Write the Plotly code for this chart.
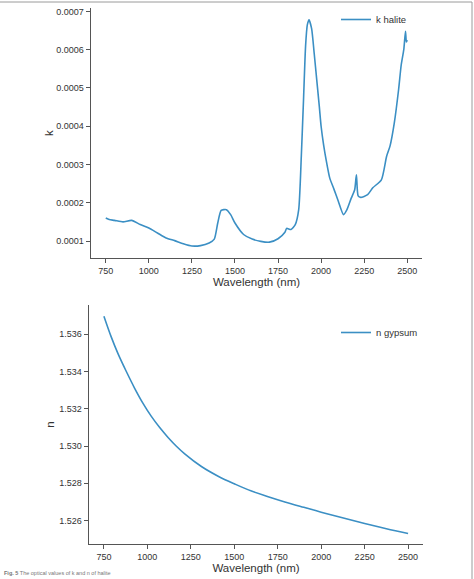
import plotly.graph_objects as go

# ---- data ----
k_wavelength = [750, 770, 800, 850, 900, 950, 1000, 1050, 1100, 1150, 1200, 1250, 1300, 1350, 1380,
                1400, 1420, 1450, 1475, 1500, 1550, 1600, 1650, 1700, 1750, 1790, 1800, 1825, 1850,
                1870, 1885, 1898, 1910, 1920, 1930, 1945, 1960, 1975, 1990, 2000, 2015, 2030, 2050,
                2075, 2100, 2130, 2150, 2175, 2195, 2205, 2215, 2230, 2270, 2300, 2350, 2380, 2400,
                2425, 2450, 2465, 2480, 2490, 2495, 2500]
k_halite = [0.000160, 0.000156, 0.000154, 0.000150, 0.000154, 0.000143, 0.000134, 0.000121, 0.000108,
            0.000101, 0.000093, 0.000087, 0.000088, 0.000095, 0.000105,
            0.000147, 0.000180, 0.000182, 0.000169, 0.000147, 0.000117, 0.000105, 0.000099, 0.000097,
            0.000106, 0.000123, 0.000133, 0.000130, 0.000143,
            0.000182, 0.000320, 0.000470, 0.000610, 0.000665, 0.000678, 0.000655, 0.000590, 0.000520,
            0.000450, 0.000400, 0.000350, 0.000310, 0.000265,
            0.000235, 0.000204, 0.000169, 0.000182, 0.000212, 0.000234, 0.000273, 0.000218, 0.000214,
            0.000221, 0.000239, 0.000260, 0.000321, 0.000348,
            0.000409, 0.000496, 0.000560, 0.000600, 0.000648, 0.000620, 0.000625]

n_wavelength = [750, 792, 831, 879, 927, 975, 1023, 1071, 1119, 1167, 1215, 1311, 1407, 1503, 1599,
                1695, 1791, 1900, 2000, 2100, 2250, 2375, 2500]
n_gypsum = [1.53697, 1.53586, 1.53496, 1.53400, 1.53310, 1.53229, 1.53159, 1.53099, 1.53046, 1.52999,
            1.52958, 1.52890, 1.52838, 1.52796, 1.52758, 1.52728, 1.52700, 1.52671, 1.52645,
            1.52620, 1.52584, 1.52556, 1.52530]

x_ticks = [750, 1000, 1250, 1500, 1750, 2000, 2250, 2500]
k_ticks = [0.0001, 0.0002, 0.0003, 0.0004, 0.0005, 0.0006, 0.0007]
n_ticks = [1.526, 1.528, 1.530, 1.532, 1.534, 1.536]

W, H = 474, 579
LINE = "#3b8fc4"
AX = "#333333"
FONT = "Liberation Sans, Arial, sans-serif"

fig = go.Figure()
fig.add_trace(go.Scatter(x=k_wavelength, y=k_halite, mode="lines", name="k halite", showlegend=True,
                         line=dict(color=LINE, width=1.6, shape="spline", smoothing=0.6),
                         xaxis="x", yaxis="y", legend="legend"))
fig.add_trace(go.Scatter(x=n_wavelength, y=n_gypsum, mode="lines", name="n gypsum", showlegend=True,
                         line=dict(color=LINE, width=1.6, shape="spline", smoothing=1.0),
                         xaxis="x2", yaxis="y2", legend="legend2"))

axis_common = dict(showgrid=False, zeroline=False, showline=True, linecolor="#555555", linewidth=1.2,
                   ticks="outside", ticklen=4, tickwidth=1, tickcolor="#555555",
                   tickfont=dict(size=9, color=AX, family=FONT))

fig.update_layout(
    width=W, height=H, margin=dict(l=0, r=0, t=0, b=0), showlegend=True,
    paper_bgcolor="white", plot_bgcolor="white",
    font=dict(family=FONT, color=AX),
    xaxis=dict(domain=[90.7 / W, 422.3 / W], range=[662.5, 2587.5], tickvals=x_ticks,
               title=dict(text="Wavelength (nm)", font=dict(size=11.5, color=AX), standoff=2),
               anchor="y", **axis_common),
    yaxis=dict(domain=[(H - 258) / H, (H - 8) / H], range=[0.0000556, 0.000709], tickvals=k_ticks,
               tickformat=".4f",
               title=dict(text="k", font=dict(size=11.5, color=AX), standoff=0),
               anchor="x", **axis_common),
    xaxis2=dict(domain=[88.7 / W, 423.3 / W], range=[662.5, 2587.5], tickvals=x_ticks,
                title=dict(text="Wavelength (nm)", font=dict(size=11.5, color=AX), standoff=2),
                anchor="y2", **axis_common),
    yaxis2=dict(domain=[(H - 544) / H, (H - 305) / H], range=[1.52474, 1.53757], tickvals=n_ticks,
                tickformat=".3f",
                title=dict(text="n", font=dict(size=11.5, color=AX), standoff=2),
                anchor="x2", **axis_common),
    legend=dict(x=336 / W, y=(H - 5) / H, xanchor="left", yanchor="top", bgcolor="rgba(0,0,0,0)",
                font=dict(size=9.5, color=AX, family=FONT)),
    legend2=dict(x=336 / W, y=(H - 318) / H, xanchor="left", yanchor="top", bgcolor="rgba(0,0,0,0)",
                 font=dict(size=9.5, color=AX, family=FONT)),
    shapes=[
        dict(type="line", xref="paper", yref="paper", x0=0, x1=472 / W, y0=(H - 2) / H, y1=(H - 2) / H,
             line=dict(color="#9a9a9a", width=1)),
        dict(type="line", xref="paper", yref="paper", x0=472 / W, x1=472 / W, y0=0, y1=(H - 2) / H,
             line=dict(color="#9a9a9a", width=1)),
    ],
    annotations=[
        dict(text="<b>Fig. 5</b> The optical values of k and n of halite", xref="paper", yref="paper",
             x=2 / W, y=1 / H, xanchor="left", yanchor="bottom", showarrow=False,
             font=dict(size=5.5, color="#777777", family=FONT)),
    ],
)

fig.write_html("out.html")
